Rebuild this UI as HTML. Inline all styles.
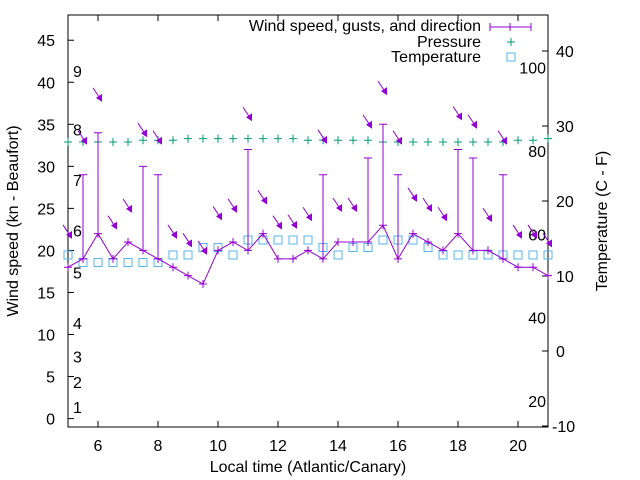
<!DOCTYPE html>
<html><head><meta charset="utf-8"><style>
body{margin:0;background:#fff}
svg{display:block;font-family:"Liberation Sans",sans-serif}
</style></head><body>
<svg id="c" width="640" height="480" viewBox="0 0 640 480"></svg>
<script>
const times=[5,5.5,6,6.5,7,7.5,8,8.5,9,9.5,10,10.5,11,11.5,12,12.5,13,13.5,14,14.5,15,15.5,16,16.5,17,17.5,18,18.5,19,19.5,20,20.5,21];
const speed=[18,19,22,19,21,20,19,18,17,16,20,21,20,22,19,19,20,19,21,21,21,23,19,22,21,20,22,20,20,19,18,18,17];
const gust=[18,29,34,19,21,30,29,18,17,16,20,21,32,22,19,19,20,29,21,21,31,35,29,22,21,20,32,31,20,29,18,18,17];
const pressure=[32.9,32.9,32.9,32.9,32.9,33.1,33.1,33.1,33.3,33.3,33.3,33.3,33.3,33.3,33.3,33.3,33.1,33.1,33.1,33.1,33.1,32.9,32.9,32.9,32.9,32.9,32.9,32.9,32.9,32.9,33.1,33.1,33.3];
const temperature=[12.8,11.8,11.8,11.8,11.8,11.8,11.8,12.8,12.8,13.8,13.8,12.8,14.8,14.8,14.8,14.8,14.8,13.8,12.8,13.8,13.8,14.8,14.8,14.8,13.8,12.8,12.8,12.8,12.8,12.8,12.8,12.8,12.8];
const arrowPos=[22.2,33.4,38.5,23.3,25.3,34.3,33.4,22.2,21.2,20.3,24.4,25.3,36.2,26.3,23.3,23.4,24.3,33.5,25.4,25.4,35.3,39.3,33.4,26.6,25.4,24.3,36.3,35.3,24.2,33.4,22.2,22.2,21.2];
const xTicks=[6,8,10,12,14,16,18,20];
const yTicks=[0,5,10,15,20,25,30,35,40,45];
const y2Ticks=[-10,0,10,20,30,40];
const fTicks=[20,40,60,80,100];
const beaufort=[1,4,7,11,17,22,28,34,41];

const L=68,R=548,T=15,B=427;
const X=v=>L+(v-5)*(R-L)/16;
const Y=v=>B-(v+1)*(B-T)/49;
const Y2=v=>426-(v+10)*7.5;
const NS="http://www.w3.org/2000/svg";
const svg=document.getElementById('c');
function mk(tag,attrs,parent){const e=document.createElementNS(NS,tag);for(const k in attrs)e.setAttribute(k,attrs[k]);(parent||svg).appendChild(e);return e;}
function txt(s,x,y,anchor,parent,extra){const e=mk('text',Object.assign({x:x,y:y,'text-anchor':anchor,'font-size':'16',fill:'#000'},extra||{}),parent);e.textContent=s;return e;}

const ax=mk('g',{});


xTicks.forEach(t=>{
  mk('line',{x1:X(t),x2:X(t),y1:B,y2:B-6,stroke:'#000'},ax);
  mk('line',{x1:X(t),x2:X(t),y1:T,y2:T+6,stroke:'#000'},ax);
  const e=txt(String(t),X(t),451,'middle',ax);
  
  
});
yTicks.forEach(t=>{
  mk('line',{x1:L,x2:L+6,y1:Y(t),y2:Y(t),stroke:'#000'},ax);
  const e=txt(String(t),55,Y(t)+6,'end',ax);
  
  
});
y2Ticks.forEach(t=>{
  mk('line',{x1:R,x2:R-6,y1:Y2(t),y2:Y2(t),stroke:'#000'},ax);
  const e=txt(String(t),t<0?251:255,Y2(t)+6,'start',ax);
  e.setAttribute('x',t<0?251:255);
  e.setAttribute('x',t<0?552:556);
  
  
});
fTicks.forEach(f=>{
  const e=txt(String(f),546,Y2((f-32)*5/9)+6,'end',ax);
  
  
});
beaufort.forEach((k,i)=>{
  const e=txt(String(i+1),73,Y(k)+3,'start',ax);
  
  
});
mk('rect',{x:L,y:T,width:R-L,height:B-T,fill:'none',stroke:'#000'},ax);
const xt=txt('Local time (Atlantic/Canary)',308,472,'middle',ax);


const yt=txt('Wind speed (kn - Beaufort)',0,0,'middle',ax,{transform:'translate(18,221) rotate(-90)'});


const y2t=txt('Temperature (C - F)',0,0,'middle',ax,{transform:'translate(607,221) rotate(-90)'});



const P='#9400d3',G='#009e73',C='#56b4e9';
const pg=mk('g',{stroke:G,'stroke-width':1});


times.forEach((t,i)=>{const x=X(t),y=Y(pressure[i]);
  mk('path',{d:`M${x-4} ${y}H${x+4}M${x} ${y-4}V${y+4}`},pg);});
const tg=mk('g',{stroke:C,fill:'none'});


times.forEach((t,i)=>{const x=X(t),y=Y2(temperature[i]);
  mk('rect',{x:x-4,y:y-4,width:8,height:8},tg);});
const wg=mk('g',{stroke:P,fill:'none'});


mk('polyline',{points:times.map((t,i)=>X(t)+','+Y(speed[i])).join(' ')},wg);
times.forEach((t,i)=>{const x=X(t),y=Y(speed[i]),g=Y(gust[i]);
  mk('path',{d:`M${x-4} ${y}H${x+4}M${x} ${y-4}V${y+4}`},wg);
  if(gust[i]>speed[i]) mk('path',{d:`M${x} ${y}V${g}M${x-4} ${g}H${x+4}`},wg);
});
const ag=mk('g',{});


times.forEach((t,i)=>{const x=X(t)-1,y=Y(arrowPos[i]);
  mk('line',{x1:x-4,y1:y-7,x2:x+4,y2:y+5,stroke:P},ag);
  mk('polygon',{points:`${x+5},${y+7} ${x-1},${y+3} ${x+5},${y-1}`,fill:P},ag);
});
const lg=mk('g',{});


txt('Wind speed, gusts, and direction',481,31,'end',lg);
txt('Pressure',481,47,'end',lg);
txt('Temperature',481,62,'end',lg);
mk('path',{d:'M490 27H531M490 23V31M531 23V31M510 23V31',stroke:P},lg);
mk('path',{d:'M507 42H515M511 38V46',stroke:G},lg);
mk('rect',{x:507,y:53,width:8,height:8,fill:'none',stroke:C},lg);
</script>
</body></html>
